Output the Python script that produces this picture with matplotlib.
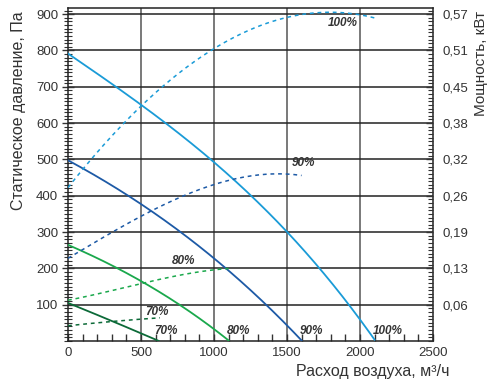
import numpy as np
import matplotlib
matplotlib.use("Agg")
import matplotlib.pyplot as plt
from matplotlib.ticker import MultipleLocator

plt.rcParams["font.family"] = ["Liberation Sans", "DejaVu Sans"]

# static pressure curves, Pa
flow_100 = [0, 250, 500, 750, 1000, 1250, 1500, 1750, 2000, 2100]
press_100 = [790, 724, 652, 575, 490, 400, 300, 190, 62, 0]
flow_90 = [0, 250, 500, 750, 1000, 1250, 1500, 1600]
press_90 = [497, 442, 377, 305, 228, 140, 45, 0]
flow_80 = [0, 250, 500, 750, 1000, 1100]
press_80 = [265, 217, 168, 100, 36, 0]
flow_70 = [0, 250, 500, 620]
press_70 = [105, 63, 22, 0]

# power curves, drawn on the pressure scale (right axis relabelled in kW)
pflow_100 = [0, 250, 500, 750, 1000, 1250, 1500, 1750, 2000, 2100]
power_100 = [420, 545, 650, 735, 800, 855, 893, 908, 902, 885]
pflow_90 = [0, 250, 500, 750, 1000, 1250, 1400, 1500, 1600]
power_90 = [228, 287, 343, 393, 432, 453, 460, 460, 456]
pflow_80 = [0, 250, 500, 750, 1000, 1100]
power_80 = [112, 135, 157, 180, 197, 199]
pflow_70 = [0, 250, 500, 630]
power_70 = [42, 52, 60, 64]

right_ticks = [100, 200, 300, 400, 500, 600, 700, 800, 900]
right_labels = ["0,06", "0,13", "0,19", "0,26", "0,32", "0,38", "0,45", "0,51", "0,57"]

# curve labels: (text, x, y)
curve_labels = [
    ("100%", 1883, 875), ("90%", 1613, 490), ("80%", 791, 220), ("70%", 607, 80),
    ("70%", 668, 28), ("80%", 1168, 28), ("90%", 1668, 28), ("100%", 2188, 28),
]

c100, c90, c80, c70 = "#1a9bd7", "#1d5aa6", "#1aa84c", "#0c6a38"
text_col = "#333333"


def smooth(x, y):
    xs = np.linspace(x[0], x[-1], 200)
    coef = np.polyfit(x, y, 3 if len(x) > 4 else 2)
    return xs, np.polyval(coef, xs)


fig = plt.figure(figsize=(4.92, 3.85), dpi=100)
ax = fig.add_axes([68 / 492, 1 - 341 / 385, 365 / 492, 333 / 385])
ax.set_xlim(0, 2500)
ax.set_ylim(0, 917)

# grid
for gx in [500, 1000, 1500, 2000]:
    ax.axvline(gx, color="#6e6e6e", lw=1.3, zorder=1)
for gy in right_ticks:
    ax.axhline(gy, color="#222222", lw=1.1, zorder=1)

for fx, py, col in [(flow_100, press_100, c100), (flow_90, press_90, c90),
                    (flow_80, press_80, c80), (flow_70, press_70, c70)]:
    ax.plot(*smooth(fx, py), color=col, lw=1.3, zorder=3)

for fx, py, col in [(pflow_100, power_100, c100), (pflow_90, power_90, c90),
                    (pflow_80, power_80, c80), (pflow_70, power_70, c70)]:
    ax.plot(*smooth(fx, py), color=col, lw=1.1, ls=(0, (2.5, 2.5)), zorder=3)

for txt, tx, ty in curve_labels:
    ax.text(tx, ty, txt, fontsize=8.5, fontweight="bold", fontstyle="italic",
            color=text_col, ha="center", va="center", zorder=4)

ax.set_xticks([0, 500, 1000, 1500, 2000, 2500])
ax.xaxis.set_minor_locator(MultipleLocator(100))
ax.set_yticks(right_ticks)
ax.yaxis.set_minor_locator(MultipleLocator(10))
ax.tick_params(axis="x", which="both", direction="in", colors=text_col, labelsize=9.5,
               pad=4, top=False)
ax.tick_params(axis="x", which="major", length=5, width=1)
ax.tick_params(axis="x", which="minor", length=5, width=1)
ax.tick_params(axis="y", which="both", direction="inout", colors=text_col, labelsize=9.5,
               pad=3, right=False)
ax.tick_params(axis="y", which="major", length=8, width=1)
ax.tick_params(axis="y", which="minor", length=6, width=0.8)
for sp in ax.spines.values():
    sp.set_color("#222222")
    sp.set_linewidth(1.1)

ax2 = ax.twinx()
ax2.set_ylim(ax.get_ylim())
ax2.set_yticks(right_ticks)
ax2.set_yticklabels(right_labels)
ax2.yaxis.set_minor_locator(MultipleLocator(10))
ax2.tick_params(axis="y", which="both", direction="in", colors=text_col, labelsize=9.5, pad=7)
ax2.tick_params(axis="y", which="major", length=5, width=1)
ax2.tick_params(axis="y", which="minor", length=3.5, width=0.8)
for sp in ax2.spines.values():
    sp.set_visible(False)

ax.set_ylabel("Статическое давление, Па", fontsize=11.5, color=text_col, loc="top")
ax.yaxis.set_label_coords(-0.115, 0.99)
ax2.set_ylabel("Мощность, кВт", fontsize=11, color=text_col, loc="top")
ax2.yaxis.set_label_coords(1.112, 0.99)
ax.set_xlabel("Расход воздуха, м³/ч", fontsize=11.5, color=text_col, loc="right")
ax.xaxis.set_label_coords(1.046, -0.07)

fig.savefig("out.png", dpi=100)
